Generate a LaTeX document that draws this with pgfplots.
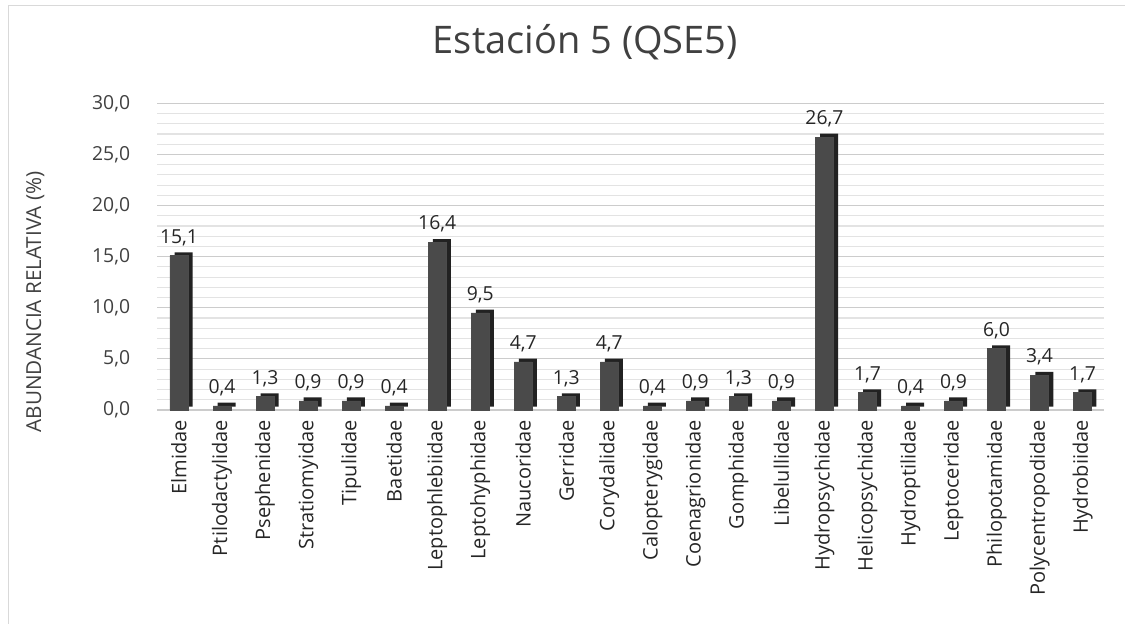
\documentclass[border=0pt]{standalone}
\usepackage{fontspec}
\setmainfont{Open Sans}
\usepackage{pgfplots}
\pgfplotsset{compat=1.18}
\definecolor{barfront}{HTML}{4A4A4A}
\definecolor{barside}{HTML}{222222}
\definecolor{bartop}{HTML}{6E6E6E}
\definecolor{txt}{HTML}{404040}
\pgfplotstableread{
x y
0 15.1
1 0.4
2 1.3
3 0.9
4 0.9
5 0.4
6 16.4
7 9.5
8 4.7
9 1.3
10 4.7
11 0.4
12 0.9
13 1.3
14 0.9
15 26.7
16 1.7
17 0.4
18 0.9
19 6.0
20 3.4
21 1.7
}\datatable
\begin{document}
\begin{tikzpicture}[x=1pt,y=1pt]
\useasboundingbox (0,0) rectangle (843.75,468);
\draw[gray!30, line width=1.2pt] (6.5,0) -- (6.5,464) -- (843.75,464);
\node[font=\fontsize{28.5}{33}\selectfont, text=txt] at (439,436.5) {Estación 5 (QSE5)};
\begin{axis}[
  at={(118.1pt,160.5pt)}, anchor=south west,
  scale only axis, width=710pt, height=230pt,
  xmin=-0.5, xmax=21.5, ymin=0, ymax=30,
  axis line style={draw=none},
  major tick length=0pt, minor tick length=0pt,
  ytick={0,5,...,30},
  minor y tick num=4,
  ymajorgrids, yminorgrids,
  major grid style={gray!40, line width=0.9pt},
  minor grid style={gray!22, line width=0.8pt},
  xtick={0,...,21},
  xticklabels={Elmidae,Ptilodactylidae,Psephenidae,Stratiomyidae,Tipulidae,Baetidae,Leptophlebiidae,Leptohyphidae,Naucoridae,Gerridae,Corydalidae,Calopterygidae,Coenagrionidae,Gomphidae,Libelullidae,Hydropsychidae,Helicopsychidae,Hydroptilidae,Leptoceridae,Philopotamidae,Polycentropodidae,Hydrobiidae},
  xticklabel style={rotate=90, anchor=east, font=\fontsize{15}{17}\selectfont, text=black!85, xshift=-4pt},
  yticklabel style={font=\fontsize{14.5}{17}\selectfont, text=txt, xshift=-17pt},
  /pgf/number format/.cd, use comma, fixed, fixed zerofill, precision=1, assume math mode=true,
  /pgfplots/.cd,
  ylabel={ABUNDANCIA RELATIVA (\%)},
  ylabel style={at={(axis description cs:-0.129,0.352)}, anchor=center, font=\fontsize{15.5}{18}\selectfont, text=txt},
  clip=false,
]
\addplot[ybar, bar width=13.5pt, bar shift=3.5pt, fill=barside, draw=none, yshift=2.5pt] table[x=x,y=y] {\datatable};
\addplot[ybar, bar width=13.5pt, bar shift=0pt, fill=barfront, draw=black!70, line width=0.4pt,
  nodes near coords, nodes near coords style={font=\fontsize{14.5}{17}\selectfont, text=black!85, yshift=4pt}] table[x=x,y=y] {\datatable};
\end{axis}
\end{tikzpicture}
\end{document}
